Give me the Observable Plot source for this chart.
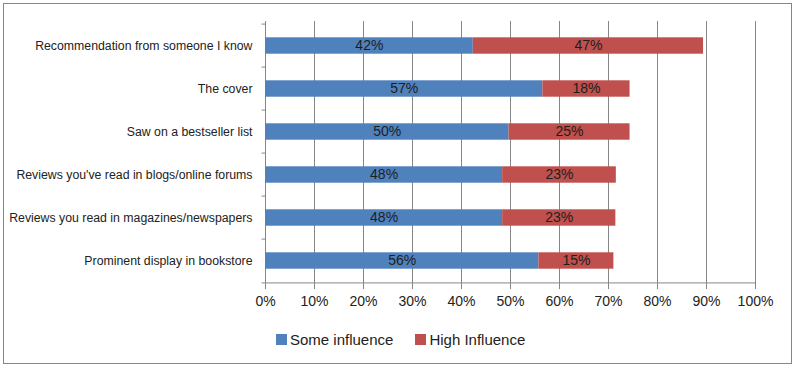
<!DOCTYPE html>
<html>
<head>
<meta charset="utf-8">
<script src="https://cdn.jsdelivr.net/npm/d3@7"></script>
<script src="https://cdn.jsdelivr.net/npm/@observablehq/plot@0.6"></script>
<style>
  body { margin: 0; background: #fff; }
  #wrap { position: relative; width: 796px; height: 367px; font-family: "Liberation Sans", Arial, sans-serif; overflow: hidden; }
  #border { position: absolute; left: 3px; top: 3px; width: 789px; height: 361px; border: 1px solid #868686; box-sizing: border-box; pointer-events: none; }
  #chart { position: absolute; left: 0; top: 0; }
  #legend { position: absolute; top: 330px; left: 276px; height: 18px; display: flex; align-items: center; font-size: 15px; color: #222; }
  .item { display: flex; align-items: center; margin-right: 22px; }
  .sw { width: 11px; height: 11px; margin-right: 3px; }
</style>
</head>
<body>
<div id="wrap">
  <div id="chart"></div>
  <div id="legend"></div>
  <div id="border"></div>
</div>
<script>
const categories = [
  "Recommendation from someone I know",
  "The cover",
  "Saw on a bestseller list",
  "Reviews you've read in blogs/online forums",
  "Reviews you read in magazines/newspapers",
  "Prominent display in bookstore"
];
const seriesNames = ["Some influence", "High Influence"];
const someInfluence = [42.4, 56.6, 49.7, 48.4, 48.4, 55.8];
const highInfluence = [47.0, 17.8, 24.7, 23.2, 23.1, 15.3];
const xTicks = [0, 10, 20, 30, 40, 50, 60, 70, 80, 90, 100];
const colors = ["#4F81BD", "#C0504D"];

const rows = categories.flatMap((c, i) => [
  {cat: c, series: seriesNames[0], value: someInfluence[i]},
  {cat: c, series: seriesNames[1], value: highInfluence[i]}
]);

const W = 796, H = 313, mt = 21, mb = 29, ml = 265, mr = 41;
const step = (H - mt - mb) / categories.length;
const gridColor = "#868686";

const chart = Plot.plot({
  width: W,
  height: H,
  marginTop: mt,
  marginBottom: mb,
  marginLeft: ml,
  marginRight: mr,
  style: {fontFamily: "Liberation Sans, Arial, sans-serif", background: "transparent", overflow: "visible"},
  x: {domain: [0, 100], axis: null, label: null},
  y: {domain: categories, padding: 0, axis: null, label: null},
  color: {domain: seriesNames, range: colors},
  marks: [
    Plot.ruleX(xTicks, {stroke: gridColor, strokeWidth: 1}),
    Plot.ruleY(categories, {y: d => d, x1: -0.7, x2: 0, dy: -step / 2, stroke: gridColor}),
    Plot.ruleY([categories[categories.length - 1]], {y: d => d, x1: -0.7, x2: 100, dy: step / 2, stroke: gridColor}),
    Plot.barX(rows, Plot.stackX({x: "value", y: "cat", fill: "series", insetTop: 13.3, insetBottom: 13.3})),
    Plot.text(rows, Plot.stackX({x: "value", y: "cat", text: d => Math.round(d.value) + "%", fill: "#1e1e1e", fontSize: 14})),
    Plot.axisX(xTicks, {tickSize: 5, tickPadding: 7, tickFormat: d => d + "%", stroke: gridColor, fill: "#222", fontSize: 14, label: null}),
    Plot.axisY({tickSize: 0, tickPadding: 13, fill: "#222", fontSize: 12.3, label: null})
  ]
});
document.getElementById("chart").appendChild(chart);

const legend = document.getElementById("legend");
seriesNames.forEach((s, i) => {
  const item = document.createElement("div");
  item.className = "item";
  const sw = document.createElement("div");
  sw.className = "sw";
  sw.style.background = colors[i];
  const t = document.createElement("span");
  t.textContent = s;
  item.appendChild(sw);
  item.appendChild(t);
  legend.appendChild(item);
});
</script>
</body>
</html>
